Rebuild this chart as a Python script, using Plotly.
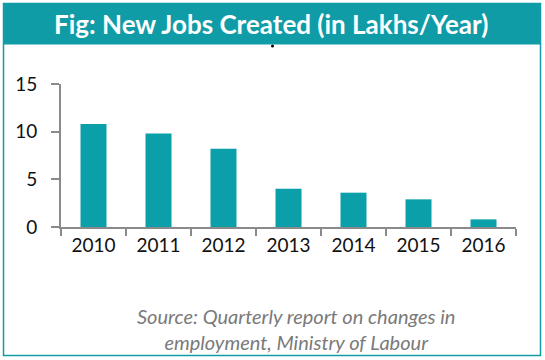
import plotly.graph_objects as go

years = ["2010", "2011", "2012", "2013", "2014", "2015", "2016"]
jobs_lakhs = [10.8, 9.8, 8.2, 4.0, 3.6, 2.9, 0.8]
y_ticks = [0, 5, 10, 15]

title_text = "Fig: New Jobs Created (in Lakhs/Year)"
source_text = "Source: Quarterly report on changes in<br>employment, Ministry of Labour"

TEAL = "#0B9FAA"
HEADER = "#109CA7"
GREY = "#8A8A8A"
FONT = "Lato"

W, H = 545, 360
ml, mr, mt, mb = 61, 29, 84, 133
PW, PH = W - ml - mr, H - mt - mb


def px_x(x):
    return (x - ml) / PW


def px_y(y):
    return (H - mb - y) / PH


fig = go.Figure(go.Bar(x=years, y=jobs_lakhs, marker=dict(color=TEAL, line=dict(width=0)), width=0.4))

fig.update_layout(
    width=W, height=H,
    margin=dict(l=ml, r=mr, t=mt, b=mb),
    paper_bgcolor="white", plot_bgcolor="white",
    showlegend=False,
    xaxis=dict(
        showline=True, linecolor=GREY, linewidth=2,
        ticks="outside", ticklen=7, tickcolor=GREY, tickwidth=2,
        tickson="boundaries",
        tickfont=dict(family=FONT, size=19, color="#111"),
        showgrid=False, zeroline=False,
    ),
    yaxis=dict(
        range=[0, 15], tickvals=y_ticks,
        showline=True, linecolor=GREY, linewidth=2,
        ticks="outside", ticklen=8, tickcolor=GREY, tickwidth=2,
        tickfont=dict(family=FONT, size=19, color="#111"),
        ticklabelstandoff=10,
        showgrid=False, zeroline=False,
    ),
    shapes=[
        dict(type="rect", xref="paper", yref="paper",
             x0=px_x(3.5), x1=px_x(540.5), y0=px_y(355.5), y1=px_y(3.5),
             line=dict(color=HEADER, width=1.5), fillcolor="rgba(0,0,0,0)", layer="below"),
        dict(type="rect", xref="paper", yref="paper",
             x0=px_x(3), x1=px_x(541), y0=px_y(44.5), y1=px_y(3),
             line=dict(width=0), fillcolor=HEADER, layer="below"),
        dict(type="circle", xref="paper", yref="paper",
             x0=px_x(271), x1=px_x(274), y0=px_y(47.5), y1=px_y(44.5),
             line=dict(width=0), fillcolor="black"),
    ],
    annotations=[
        dict(text=title_text, xref="paper", yref="paper",
             x=px_x(271), y=px_y(24),
             xanchor="center", yanchor="middle", showarrow=False,
             font=dict(family=FONT, size=26, color="white", weight="bold")),
        dict(text="<i>" + source_text + "</i>", xref="paper", yref="paper",
             x=px_x(296), y=px_y(329),
             xanchor="center", yanchor="middle", showarrow=False, align="center",
             font=dict(family=FONT, size=20, color="#7A7A7A")),
    ],
)

fig.write_html("out.html", config={"displayModeBar": False},
               post_script="document.body.style.margin='0px';")
